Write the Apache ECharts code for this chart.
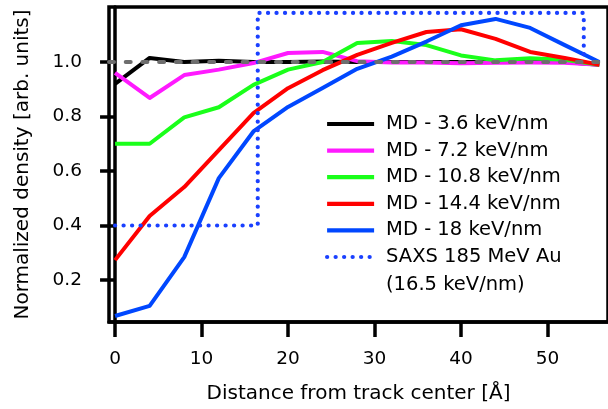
<!DOCTYPE html>
<html>
<head>
<meta charset="utf-8">
<script src="https://cdn.jsdelivr.net/npm/echarts@6/dist/echarts.min.js"></script>
<style>
html,body{margin:0;padding:0;background:#fff;}
#chart{width:608px;height:409px;}
</style>
</head>
<body>
<div id="chart"></div>
<script>
// Distance from track center [Å]
var distance = [0, 4, 8, 12, 16, 20, 24, 28, 32, 36, 40, 44, 48, 52, 56];
var md36  = [0.92, 1.015, 1.0, 1.005, 1.0, 1.0, 1.002, 1.0, 1.0, 1.0, 1.0, 1.0, 1.0, 1.0, 0.99];
var md72  = [0.96, 0.868, 0.952, 0.972, 0.996, 1.033, 1.037, 1.003, 0.998, 0.998, 0.995, 0.997, 0.998, 0.997, 0.99];
var md108 = [0.70, 0.70, 0.797, 0.834, 0.916, 0.972, 1.0, 1.07, 1.077, 1.062, 1.024, 1.006, 1.014, 1.008, 0.99];
var md144 = [0.273, 0.435, 0.541, 0.677, 0.812, 0.904, 0.97, 1.026, 1.07, 1.11, 1.12, 1.085, 1.037, 1.015, 0.99];
var md18  = [0.068, 0.105, 0.284, 0.574, 0.745, 0.835, 0.905, 0.975, 1.02, 1.075, 1.135, 1.158, 1.125, 1.062, 1.0];
// SAXS step profile
var saxsX = [0, 16.5, 16.5, 54.2, 54.2];
var saxsY = [0.4, 0.4, 1.18, 1.18, 1.0];
var refLevel = 1.0;
var xTicks = [0, 10, 20, 30, 40, 50];
var yTicks = [0.2, 0.4, 0.6, 0.8, 1.0];
var names = ['MD - 3.6 keV/nm', 'MD - 7.2 keV/nm', 'MD - 10.8 keV/nm', 'MD - 14.4 keV/nm', 'MD - 18 keV/nm', 'SAXS 185 MeV Au'];
var saxsNote = '(16.5 keV/nm)';
var colors = ['#000000', '#ff1aff', '#1aff1a', '#ff0000', '#0047ff', '#1a40ff'];

function pairs(xs, ys) { return xs.map(function (x, i) { return [x, ys[i]]; }); }
var mdSets = [md36, md72, md108, md144, md18];

var series = mdSets.map(function (vals, i) {
  return {
    name: names[i], type: 'line', data: pairs(distance, vals),
    symbol: 'none', lineStyle: { width: 4, color: colors[i], join: 'round' },
    itemStyle: { color: colors[i] }
  };
});
series.push({
  name: names[5], type: 'line', data: pairs(saxsX, saxsY), symbol: 'none',
  lineStyle: { width: 4.2, color: colors[5], type: [0.1, 8.4], cap: 'round' },
  itemStyle: { color: colors[5] },
  markLine: {
    silent: true, symbol: 'none', label: { show: false },
    lineStyle: { color: '#6e6e6e', width: 4, type: [5, 11.7], cap: 'round' },
    data: [{ yAxis: refLevel }]
  }
});

var font = 'DejaVu Sans, Liberation Sans, Arial, sans-serif';
var chart = echarts.init(document.getElementById('chart'));
chart.setOption({
  animation: false,
  grid: { left: 109, top: 7, right: -4.7, bottom: 87, show: true, borderColor: '#000', borderWidth: 3.5, backgroundColor: 'transparent' },
  legend: {
    orient: 'vertical', left: 325, top: 114, padding: 0, itemWidth: 47, itemHeight: 20, itemGap: 6.6,
    itemStyle: { opacity: 0 },
    lineStyle: { width: 4.2 },
    textStyle: { fontFamily: font, fontSize: 19.5, color: '#000', lineHeight: 20, padding: [0, 0, 0, 7] },
    data: names
  },
  graphic: [{
    type: 'text', x: 386, y: 285,
    style: { text: saxsNote, fontFamily: font, fontSize: 19.5, fill: '#000', verticalAlign: 'middle' }
  }],
  xAxis: {
    type: 'value', min: -0.7, max: 57,
    name: 'Distance from track center [Å]', nameLocation: 'middle', nameGap: 62,
    nameTextStyle: { fontFamily: font, fontSize: 20, color: '#000' },
    splitLine: { show: false },
    axisLine: { lineStyle: { color: '#000', width: 3.5 } },
    axisTick: { customValues: xTicks, length: 15, lineStyle: { color: '#000', width: 3.5 } },
    axisLabel: { customValues: xTicks, margin: 28, fontFamily: font, fontSize: 18.5, color: '#000' }
  },
  yAxis: {
    type: 'value', min: 0.0459, max: 1.2018,
    name: 'Normalized density [arb. units]', nameLocation: 'middle', nameGap: 76,
    nameTextStyle: { fontFamily: font, fontSize: 20, color: '#000' },
    splitLine: { show: false },
    axisLine: { lineStyle: { color: '#000', width: 3.5 } },
    axisTick: { customValues: yTicks, length: 15, lineStyle: { color: '#000', width: 3.5 } },
    axisLabel: { customValues: yTicks, margin: 27, fontFamily: font, fontSize: 18.5, color: '#000',
      formatter: function (v) { return v.toFixed(1); } }
  },
  series: series
});
</script>
</body>
</html>
